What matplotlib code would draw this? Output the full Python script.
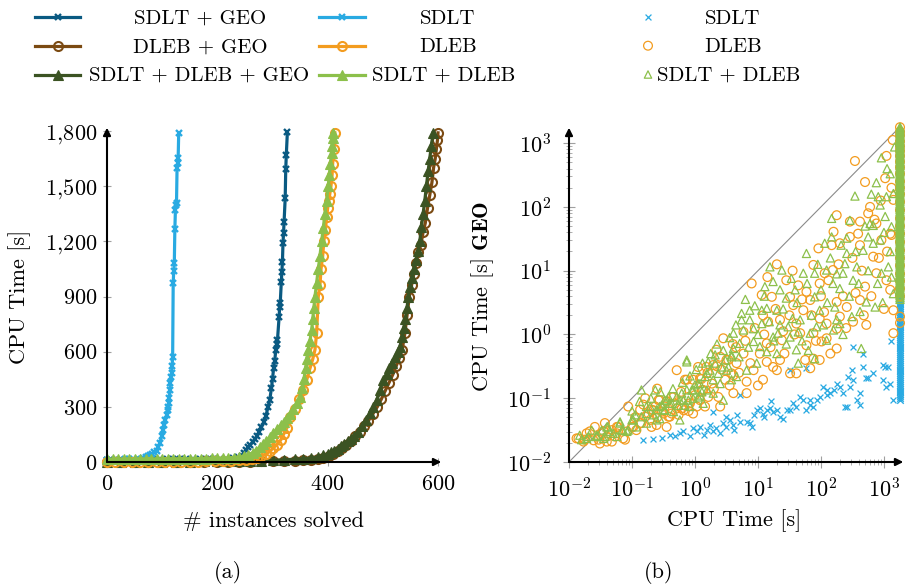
import numpy as np
import matplotlib
matplotlib.use("Agg")
import matplotlib.pyplot as plt
from matplotlib.ticker import FuncFormatter, LogLocator, NullFormatter, LogFormatterSciNotation

plt.rcParams['font.family'] = 'cmr10'
plt.rcParams['mathtext.fontset'] = 'cm'
plt.rcParams['axes.formatter.use_mathtext'] = True
plt.rcParams['font.size'] = 16

# colours
c_sdlt_geo = '#0a5a82'
c_sdlt = '#29aae2'
c_dleb_geo = '#7b4a12'
c_dleb = '#f39c1f'
c_all_geo = '#3b5323'
c_sdlt_dleb = '#8cc04b'

# ---- cactus plot data: (# instances solved, CPU time [s]) ----
sdlt_n = [0, 8, 16, 24, 32, 40, 48, 56, 62, 66, 70, 74, 78, 82, 86, 90, 93, 96, 99, 102, 104, 106,
          108, 110, 111, 112, 113, 114, 115, 116, 117, 118, 119, 120, 121, 122, 123, 124, 125, 126,
          127, 128, 129, 130]
sdlt_t = [12, 12, 13, 13, 14, 14, 15, 16, 18, 21, 26, 31, 37, 44, 52, 62, 80, 105, 140, 174, 200, 230,
          255, 285, 300, 320, 350, 390, 430, 460, 483, 520, 573, 975, 1040, 1080, 1265, 1370, 1395, 1410,
          1600, 1625, 1655, 1790]

sdlt_geo_n = [0, 12, 24, 36, 48, 60, 72, 84, 96, 108, 120, 132, 144, 156, 168, 180, 192, 204, 216, 228,
              238, 244, 248, 252, 256, 260, 264, 268, 272, 276, 280, 284, 288, 292, 295, 298,
              300, 302, 304, 306, 308, 309, 312, 313, 314, 316, 317, 318, 319, 320, 321, 323,
              324, 325, 327]
sdlt_geo_t = [12, 12, 12, 13, 13, 13, 13, 14, 14, 14, 15, 15, 15, 16, 16, 17, 17, 18, 19, 21,
              26, 35, 50, 65, 80, 95, 108, 125, 140, 165, 190, 215, 250, 300, 337, 400,
              450, 510, 550, 609, 640, 663, 790, 845, 863, 981, 1035, 1089, 1189, 1243, 1307, 1434,
              1591, 1669, 1796]

dleb_n = [0, 15, 30, 45, 60, 75, 90, 105, 120, 135, 150, 165, 180, 195, 210, 225, 240,
          252, 262, 272, 280, 288, 295, 301, 308, 315, 320, 326, 332, 340, 348, 355, 362,
          368, 373, 377, 380, 383, 386, 388, 391, 393, 396, 398, 400, 402, 404, 406, 408,
          409, 411, 413]
dleb_t = [0.3, 0.4, 0.5, 0.6, 0.7, 0.8, 1, 1.2, 1.4, 1.7, 2, 2.5, 3, 4, 5, 7, 9,
          12, 16, 22, 30, 42, 58, 75, 95, 120, 150, 185, 246, 290, 340, 390, 446,
          510, 560, 610, 700, 900, 960, 1050, 1120, 1200, 1260, 1330, 1380, 1420, 1460, 1500, 1560,
          1620, 1700, 1790]

sdlt_dleb_n = [0, 10, 20, 30, 40, 50, 60, 70, 80, 90, 100, 110, 120, 130, 140, 150, 160, 170, 180,
               190, 200, 210, 220, 230, 240, 248, 256, 264, 270, 277, 283, 289, 295,
               301, 308, 315, 320, 326, 332, 338, 344, 350, 354, 357, 360, 362, 365, 368, 371,
               373, 375, 377, 380, 383, 386, 389, 392, 395, 398, 401, 403, 405, 407, 408, 409, 410]
sdlt_dleb_t = [14, 14, 14, 15, 15, 15, 15, 16, 16, 16, 16, 17, 17, 17, 18, 18, 18, 19, 19,
               20, 20, 21, 22, 24, 27, 32, 40, 50, 62, 80, 98, 115, 135,
               155, 178, 200, 215, 240, 262, 290, 322, 355, 400, 450, 510, 560, 610, 660, 720,
               780, 840, 900, 975, 1050, 1120, 1200, 1270, 1350, 1420, 1500, 1560, 1620, 1680, 1720, 1760, 1790]

all_geo_n = [0, 25, 50, 75, 100, 125, 150, 175, 200, 220, 240, 260, 280, 300, 320, 340,
             355, 370, 382, 392, 400, 406, 412, 418, 424, 430, 436, 442, 448,
             455, 462, 470, 477, 483, 489, 495, 501, 507, 512, 517, 522, 527, 531,
             535, 538, 541, 544, 546, 549, 552, 556,
             560, 564, 567, 570, 573, 576, 579, 582, 585, 588, 591]
all_geo_t = [1, 1, 1.5, 1.5, 2, 2, 2.5, 3, 4, 5, 6, 7, 8, 10, 12, 15,
             18, 22, 28, 36, 44, 52, 62, 72, 85, 100, 112, 125, 140,
             165, 195, 228, 265, 300, 337, 390, 446, 480, 510, 540, 570, 600, 627,
             680, 730, 780, 840, 900, 950, 1000, 1050,
             1100, 1150, 1200, 1280, 1350, 1420, 1500, 1580, 1650, 1720, 1790]

dleb_geo_n = [0, 25, 50, 75, 100, 125, 150, 175, 200, 220, 240, 260, 280, 300, 320, 340,
              355, 370, 382, 392, 402, 410, 418, 426, 434, 442, 450, 458,
              466, 474, 482, 490, 497, 504, 511, 518, 524, 530, 535, 540, 544, 548, 552, 556,
              560, 564, 569, 573, 577, 581, 585, 589, 592, 595, 597, 599, 600]
dleb_geo_t = [0.3, 0.3, 0.4, 0.5, 0.6, 0.7, 0.8, 1, 1.3, 1.6, 2, 2.5, 3, 4, 5, 7,
              9, 12, 16, 22, 32, 45, 60, 76, 95, 115, 140, 165,
              195, 225, 262, 300, 340, 385, 430, 475, 520, 565, 610, 700, 800, 900, 960, 1020,
              1080, 1140, 1180, 1250, 1300, 1380, 1450, 1520, 1600, 1650, 1700, 1750, 1790]

# ---- scatter data, as (log10 time without GEO, log10 time with GEO) ----
timeout = 1800
pts_sdlt = [(-0.83, -1.66), (-0.67, -1.64), (-0.53, -1.63), (-0.40, -1.58), (-0.32, -1.60), (-0.24, -1.55),
            (-0.19, -1.52), (-0.08, -1.60), (-0.03, -1.47), (0.03, -1.52), (0.08, -1.45), (0.19, -1.50),
            (0.24, -1.42), (0.29, -1.52), (0.34, -1.47), (0.45, -1.39), (0.50, -1.45), (0.50, -1.29),
            (0.56, -1.34), (0.61, -1.42), (0.66, -1.26), (0.71, -1.37), (0.82, -1.37), (0.87, -1.39),
            (0.93, -1.26), (0.98, -1.19), (1.03, -1.16), (1.14, -1.19), (1.24, -1.21), (1.30, -1.19),
            (1.35, -1.29), (1.40, -1.32), (1.46, -1.19), (1.51, -1.19), (1.56, -1.08), (1.61, -1.13),
            (1.67, -0.98), (1.72, -1.03), (1.77, -1.19), (1.83, -1.11), (1.88, -1.13), (1.93, -1.03),
            (1.98, -0.98), (2.04, -0.82), (2.09, -0.87), (2.14, -0.92), (2.20, -0.87), (2.25, -0.77),
            (2.30, -0.82), (2.35, -0.92), (2.41, -1.13), (2.43, -0.66), (2.51, -0.71), (2.57, -1.03),
            (2.62, -0.92), (2.67, -0.51), (2.72, -0.69), (2.83, -0.61), (2.99, -0.71), (3.10, -0.77),
            (3.15, -1.03), (3.02, -0.51), (3.07, -0.51), (2.51, -0.19), (2.67, -0.30), (1.51, -0.56),
            (1.77, -0.53), (0.71, -0.95), (0.29, -1.21), (2.09, -0.95), (1.83, -1.03), (1.08, -1.24),
            (1.19, -1.16), (2.99, -0.48), (3.12, -0.11), (3.04, -0.82), (2.75, -0.68), (2.49, -0.56),
            (2.38, -1.13), (2.62, -1.11), (2.46, -0.82), (0.40, -1.55), (0.14, -1.58), (0.62, -1.50),
            (1.10, -1.30), (0.90, -1.45), (1.20, -1.05)]
col_sdlt = [0.56, 0.53, 0.5, 0.47, 0.44, 0.41, 0.38, 0.35, 0.32, 0.29, 0.26, 0.23, 0.2, 0.17, 0.14,
            0.11, 0.08, 0.05, 0.02, -0.01, -0.04, -0.07, -0.1, -0.13, -0.16, -0.19, -0.22, -0.25,
            -0.28, -0.31, -0.34, -0.37, -0.4, -0.43, -0.46, -0.49, -0.52, -0.55, -0.58, -0.61, -0.64,
            -0.67, -0.7, -0.73, -0.76, -0.79, -0.82, -0.85, -0.88, -0.91, -0.94, -0.97, -1.0, -1.03]

pts_dleb = [(-1.85, -1.63), (-1.75, -1.65), (-1.59, -1.45), (-1.53, -1.65), (-1.43, -1.39), (-1.40, -1.68),
            (-1.27, -1.60), (-1.22, -1.45), (-1.11, -1.65), (-1.08, -1.52), (-1.06, -1.13), (-1.00, -1.45),
            (-0.93, -1.50), (-0.87, -1.18), (-0.79, -1.00), (-0.74, -1.24), (-0.69, -1.45), (-0.63, -1.13),
            (-0.58, -1.03), (-0.53, -1.21), (-0.48, -1.13), (-0.42, -1.29), (-0.37, -1.24), (-0.32, -1.08),
            (-0.26, -1.26), (-0.16, -0.71), (-0.105, -0.98), (-0.03, -0.71), (0.05, -0.51), (0.11, -0.87),
            (0.16, -1.13), (0.21, -0.98), (0.27, -0.77), (0.34, -0.24), (0.37, -0.98), (0.45, -0.06),
            (0.48, -0.71), (0.53, -0.40), (0.58, -0.61), (0.61, -0.92), (-0.69, -1.18), (-0.85, -1.39),
            (-1.32, -1.50), (-1.67, -1.52), (-1.48, -1.55), (-0.21, -1.16), (0.03, -1.13), (-0.37, -0.98),
            (0.90, 0.80), (0.77, 0.04), (1.06, 0.62), (1.22, 0.59), (1.08, 0.30), (1.16, 0.20),
            (1.35, 0.23), (1.51, 0.59), (1.56, 0.46), (1.64, 0.77), (1.72, 0.38), (1.77, 0.67),
            (1.83, 0.54), (1.88, 1.09), (1.96, 1.35), (1.98, 0.80), (2.06, 0.96), (2.17, 1.40),
            (2.19, 1.01), (2.25, 0.51), (2.30, 0.28), (2.25, 0.09), (2.41, 0.43), (2.46, 1.53),
            (2.59, 1.58), (2.62, 0.54), (2.70, 0.75), (2.72, 0.15), (2.83, 1.22), (2.88, 0.96),
            (2.96, 1.48), (3.10, 1.58), (3.15, 0.02), (3.15, 0.38), (3.04, 0.85), (1.88, -0.38),
            (1.83, -0.53), (1.61, -0.61), (1.38, -0.09), (1.77, -0.17), (1.98, 0.25), (2.09, -0.06),
            (2.25, -0.22), (1.30, -0.56), (1.14, -0.43), (0.66, -0.45), (0.18, -0.51), (1.45, 0.85),
            (2.30, 1.43), (2.62, 1.40), (1.67, 0.02),
            (2.54, 2.72), (2.70, 2.39), (3.04, 2.80), (3.14, 3.05), (2.78, 2.00), (2.25, 1.87),
            (2.46, 1.77), (2.20, 1.61), (3.02, 2.45), (3.15, 2.11), (2.88, 1.74), (2.62, 1.77),
            (3.12, 1.56),
            (0.08, -0.69), (0.29, -0.48), (0.50, -0.40), (0.61, -0.64), (0.77, -0.30), (0.82, -0.74),
            (0.93, -0.56), (1.03, -0.30), (1.08, -0.71), (1.14, -0.14), (1.24, -0.51), (1.35, -0.40),
            (1.51, -0.61), (1.61, 0.17), (1.88, 0.02), (1.98, -0.40), (2.09, 0.17), (2.51, 0.20),
            (0.40, -0.35), (-0.13, -0.71), (-0.29, -0.56), (0.08, -1.03), (0.40, -1.13), (0.13, -0.87),
            (-0.34, -0.98), (-0.56, -1.03), (2.01, -0.11), (0.82, -0.92),
            (-1.88, -1.63), (-1.77, -1.68), (-1.61, -1.66), (-1.51, -1.71), (-1.40, -1.60), (-1.32, -1.68),
            (-1.24, -1.55), (-1.14, -1.63), (-0.98, -1.45), (-0.87, -1.39), (-0.79, -1.29), (-0.71, -1.34),
            (-0.66, -1.19), (-0.50, -1.24), (-0.40, -1.29), (-0.29, -1.16), (-0.18, -1.19), (-0.08, -1.08),
            (-0.03, -1.24), (-0.61, -1.42), (-1.24, -1.45), (-1.45, -1.52), (-1.72, -1.55), (-0.45, -1.45),
            (-0.95, -1.30), (-0.82, -1.10), (-0.60, -1.30), (-0.45, -1.05), (-0.22, -0.90), (-0.10, -1.20),
            (0.00, -0.95), (0.10, -0.70), (0.20, -0.60), (0.30, -0.85), (0.42, -0.55), (0.55, -0.80),
            (0.65, -0.20), (0.70, -0.60), (0.80, -0.10), (0.88, -0.45), (0.95, 0.10), (1.00, -0.80),
            (1.10, 0.00), (1.20, -0.20), (1.28, 0.40), (1.40, 0.05), (1.42, -0.30), (1.50, 0.30),
            (1.58, 0.00), (1.70, 0.55), (1.75, -0.40), (1.85, 0.30), (1.92, -0.10), (2.00, 0.60),
            (2.05, 0.35), (2.12, 0.85), (2.15, -0.30), (2.28, 1.10), (2.35, 0.60), (2.40, 0.10),
            (2.50, 1.20), (2.55, 0.65), (2.65, 1.00), (2.68, 0.30), (2.80, 0.60), (2.85, 1.80),
            (2.92, 1.20), (3.00, 0.40), (3.05, 1.30), (3.10, 0.70), (3.12, 2.30), (2.95, 2.10),
            (2.75, 1.90), (1.30, 1.10), (1.55, 1.00), (1.15, 0.90), (0.60, -0.15), (0.35, -0.50),
            (-0.60, -0.85)]
col_dleb = [3.25, 3.18, 3.12, 3.03, 2.95, 2.88, 2.8, 2.71, 2.62, 2.52, 2.4, 2.3, 2.2, 2.08, 1.95,
            1.82, 1.7, 1.58, 1.45, 1.32, 1.2, 1.08, 0.95, 0.84, 0.72, 0.6, 0.28, 0.18]

pts_sdlt_dleb = [(-1.80, -1.65), (-1.64, -1.50), (-1.56, -1.58), (-1.48, -1.50), (-1.38, -1.45), (-1.30, -1.55),
                 (-1.19, -1.37), (-1.14, -1.50), (-1.00, -1.34), (-0.95, -1.26), (-0.85, -0.87), (-0.77, -1.24),
                 (-0.71, -1.13), (-0.63, -0.87), (-0.61, -1.18), (-0.53, -1.11), (-0.48, -1.03), (-0.42, -0.98),
                 (-0.37, -1.08), (-0.29, -0.98), (-0.24, -1.34), (-0.21, -0.92), (-0.16, -1.11), (-0.13, -0.43),
                 (-0.105, -1.03), (-0.05, -0.87), (0.00, -0.79), (0.05, -0.77), (0.11, -0.90), (0.16, -0.66),
                 (0.21, -0.43), (0.24, -0.56), (0.29, -0.71), (0.32, -0.45), (0.37, -0.61), (0.42, -0.51),
                 (0.48, -0.40), (0.53, -0.51), (0.58, -0.71), (0.61, -0.22), (0.58, -0.32), (-1.43, -1.60),
                 (-1.69, -1.60), (-1.06, -1.50), (-0.48, -1.18), (-0.85, -1.29), (-0.61, -1.34), (0.05, -0.98),
                 (1.19, 1.06), (1.38, 1.01), (1.53, 0.88), (1.24, 0.83), (1.11, 0.75), (0.87, 0.38),
                 (0.74, 0.23), (1.14, 0.41), (1.30, 0.38), (1.45, 0.57), (1.59, 0.70), (1.72, 0.96),
                 (1.77, 1.27), (1.90, 0.96), (2.06, 1.43), (2.17, 1.53), (2.09, 1.01), (2.19, 0.80),
                 (2.30, 0.72), (2.35, 0.96), (2.41, 1.27), (2.51, 0.85), (2.57, 1.06), (2.67, 1.32),
                 (2.75, 1.53), (2.83, 1.43), (2.94, 1.48), (2.96, 0.96), (3.07, 1.06), (3.15, 0.64),
                 (2.72, 0.51), (2.62, 0.36), (2.49, 0.28), (2.25, 0.23), (2.04, 0.15), (1.98, 0.38),
                 (1.90, 0.59), (1.67, 0.23), (1.64, 0.04), (1.51, -0.04), (1.32, 0.02), (0.93, 0.09),
                 (0.71, -0.14), (0.58, -0.35), (0.32, -0.32), (1.64, -0.45), (1.90, -0.38), (2.64, -0.22),
                 (2.22, 0.43), (2.38, 1.11),
                 (2.96, 2.77), (2.88, 2.38), (3.10, 2.52), (2.54, 2.17), (2.91, 2.16), (2.94, 2.03),
                 (3.04, 2.16), (3.15, 2.21), (2.17, 1.82), (2.46, 1.79), (2.78, 1.74), (2.83, 1.71),
                 (3.02, 1.85), (3.12, 1.69), (3.17, 2.94), (2.41, 1.51),
                 (-0.13, -0.40), (0.61, 0.02), (0.77, 0.07), (0.87, 0.23), (1.06, 0.17), (0.93, -0.11),
                 (1.03, -0.19), (1.14, -0.27), (1.24, -0.04), (1.35, 0.15), (1.48, 0.12), (1.61, -0.24),
                 (1.83, 0.02), (1.93, 0.12), (2.09, -0.09), (2.20, 0.07), (2.30, 0.17), (2.86, 0.43),
                 (0.66, -0.66), (0.82, -0.56), (0.98, -0.45), (0.50, -0.56), (0.40, -0.77), (0.08, -0.77),
                 (-0.03, -0.87), (-0.24, -1.03), (-0.40, -1.08), (-0.56, -1.13), (0.19, -0.61), (1.30, -0.30),
                 (0.74, 0.33), (1.06, 0.38),
                 (-1.83, -1.58), (-1.72, -1.63), (-1.56, -1.60), (-1.45, -1.63), (-1.35, -1.52), (-1.24, -1.60),
                 (-1.16, -1.50), (-1.08, -1.52), (-0.98, -1.34), (-0.93, -1.45), (-0.77, -1.39), (-0.66, -1.26),
                 (-0.56, -1.32), (-0.48, -1.19), (-0.34, -1.21), (-0.26, -1.11), (-0.18, -1.03), (-0.08, -1.13),
                 (-0.03, -1.00), (0.08, -0.95), (0.19, -0.87), (-1.19, -1.39), (-1.40, -1.45), (-0.45, -1.03),
                 (-0.77, -1.13), (-0.13, -0.87), (0.13, -1.08), (0.29, -0.92), (0.45, -1.03),
                 (-1.00, -1.20), (-0.88, -1.05), (-0.70, -1.00), (-0.55, -0.90), (-0.35, -0.85), (-0.20, -0.75),
                 (-0.08, -0.65), (0.02, -0.55), (0.12, -0.45), (0.25, -0.30), (0.35, -0.15), (0.45, -0.25),
                 (0.55, -0.05), (0.65, 0.15), (0.70, -0.35), (0.80, 0.55), (0.85, -0.20), (0.95, 0.45),
                 (1.00, 0.00), (1.10, 0.60), (1.18, 0.20), (1.25, -0.10), (1.35, 0.70), (1.40, 0.40),
                 (1.45, -0.15), (1.55, 0.25), (1.62, 0.50), (1.70, -0.10), (1.78, 0.80), (1.85, 0.30),
                 (1.95, 1.10), (2.00, 0.70), (2.10, 0.50), (2.15, 1.20), (2.25, 0.95), (2.32, 1.40),
                 (2.45, 0.60), (2.55, 1.30), (2.60, 0.80), (2.70, 1.70), (2.75, 1.00), (2.80, 2.20),
                 (2.90, 0.80), (3.00, 1.60), (3.05, 2.60), (3.10, 1.30), (3.12, 0.90), (2.98, 0.50),
                 (2.35, 0.00), (1.80, -0.25)]
col_sdlt_dleb = [3.25, 3.22, 3.19, 3.16, 3.13, 3.1, 3.07, 3.04, 3.01, 2.98, 2.95, 2.92, 2.89, 2.86,
                 2.83, 2.8, 2.77, 2.74, 2.71, 2.68, 2.65, 2.62, 2.59, 2.56, 2.53, 2.5, 2.47, 2.44,
                 2.41, 2.38, 2.35, 2.32, 2.29, 2.26, 2.23, 2.2, 2.17, 2.14, 2.11, 2.08, 2.05, 2.02,
                 1.99, 1.96, 1.93, 1.9, 1.87, 1.84, 1.81, 1.78, 1.75, 1.72, 1.69, 1.66, 1.63, 1.6,
                 1.57, 1.54, 1.51, 1.48, 1.45, 1.42, 1.39, 1.36, 1.33, 1.3, 1.27, 1.24, 1.21, 1.18,
                 1.15, 1.12, 1.09, 1.06, 1.03, 1.0, 0.97, 0.94, 0.91, 0.88, 0.85, 0.82, 0.79, 0.76,
                 0.73, 0.7, 0.67, 0.64, 0.61, 0.58, 0.55]

W, H = 909, 585
fig = plt.figure(figsize=(W / 100, H / 100), dpi=100)

# legend area drawn in pixel coordinates
axl = fig.add_axes([0, 0, 1, 1])
axl.set_xlim(0, W)
axl.set_ylim(H, 0)
axl.axis('off')

ax1 = fig.add_axes([107 / W, 1 - 462 / H, 331 / W, 331 / H])
ax2 = fig.add_axes([569 / W, 1 - 462 / H, 331 / W, 331 / H])

tick_col = '#a0a0a0'

# ---------------- (a) cactus plot ----------------
cactus = [
    (sdlt_geo_n, sdlt_geo_t, c_sdlt_geo, 'x', 'SDLT + GEO'),
    (dleb_geo_n, dleb_geo_t, c_dleb_geo, 'o', 'DLEB + GEO'),
    (all_geo_n, all_geo_t, c_all_geo, '^', 'SDLT + DLEB + GEO'),
    (sdlt_n, sdlt_t, c_sdlt, 'x', 'SDLT'),
    (dleb_n, dleb_t, c_dleb, 'o', 'DLEB'),
    (sdlt_dleb_n, sdlt_dleb_t, c_sdlt_dleb, '^', 'SDLT + DLEB'),
]


def mstyle(marker, color):
    if marker == 'x':
        return dict(marker='x', ms=4.5, mew=1.7, mec=color)
    if marker == 'o':
        return dict(marker='o', ms=6.5, mew=1.5, mec=color, mfc='none')
    return dict(marker='^', ms=6.5, mew=0.8, mec=color, mfc=color)


def thousands(v, pos):
    v = int(round(v))
    if v >= 1000:
        return rf"${v // 1000},\!{v % 1000:03d}$"
    return f"${v}$"


for n, t, col, mk, lab in cactus:
    ax1.plot(n, t, color=col, lw=2.3, clip_on=False, **mstyle(mk, col))

ax1.set_xlim(0, 600)
ax1.set_ylim(0, 1800)
ax1.set_xticks([0, 200, 400, 600])
ax1.set_yticks([0, 300, 600, 900, 1200, 1500, 1800])
ax1.yaxis.set_major_formatter(FuncFormatter(thousands))
ax1.tick_params(axis='both', direction='inout', length=6, width=0.8, color=tick_col)
ax1.tick_params(axis='x', pad=6)
ax1.tick_params(axis='y', pad=4)
ax1.set_xlabel('# instances solved')
ax1.set_ylabel('CPU Time [s]')
ax1.xaxis.label.set_va('center')
ax1.yaxis.label.set_va('center')
ax1.xaxis.set_label_coords(0.503, -0.178)
ax1.yaxis.set_label_coords(-0.265, 0.5)

# ---------------- (b) scatter plot ----------------
sx, sy = zip(*pts_sdlt)
dx, dy = zip(*pts_dleb)
gx, gy = zip(*pts_sdlt_dleb)

ax2.plot([0.01, 1500], [0.01, 1500], color='#8a8a8a', lw=0.8, zorder=1)
ax2.scatter(10 ** np.array(sx), 10 ** np.array(sy), marker='x', s=18, c=c_sdlt, lw=0.9, clip_on=False, zorder=2)
ax2.scatter(np.full(len(col_sdlt), timeout), 10 ** np.array(col_sdlt), marker='x', s=22, c=c_sdlt,
            lw=1.0, clip_on=False, zorder=2)
ax2.scatter(10 ** np.array(dx), 10 ** np.array(dy), marker='o', s=40, facecolors='none',
            edgecolors=c_dleb, lw=0.9, clip_on=False, zorder=3)
ax2.scatter(np.full(len(col_dleb), timeout), 10 ** np.array(col_dleb), marker='o', s=40,
            facecolors='none', edgecolors=c_dleb, lw=0.9, clip_on=False, zorder=3)
ax2.scatter(10 ** np.array(gx), 10 ** np.array(gy), marker='^', s=34, facecolors='none',
            edgecolors=c_sdlt_dleb, lw=0.9, clip_on=False, zorder=4)
ax2.scatter(np.full(len(col_sdlt_dleb), timeout), 10 ** np.array(col_sdlt_dleb), marker='^', s=34,
            facecolors='none', edgecolors=c_sdlt_dleb, lw=1.0, clip_on=False, zorder=4)

ax2.set_xscale('log')
ax2.set_yscale('log')
ax2.set_xlim(0.01, 1800)
ax2.set_ylim(0.01, 1550)
for axis in (ax2.xaxis, ax2.yaxis):
    axis.set_major_locator(LogLocator(base=10, numticks=12))
    axis.set_minor_locator(LogLocator(base=10, subs=np.arange(2, 10), numticks=12))
    axis.set_major_formatter(LogFormatterSciNotation())
    axis.set_minor_formatter(NullFormatter())
ax2.tick_params(axis='both', which='major', direction='inout', length=8, width=0.8, color=tick_col)
ax2.tick_params(axis='both', which='minor', direction='inout', length=5, width=0.6, color=tick_col)
ax2.tick_params(axis='x', which='major', pad=7)
ax2.tick_params(axis='y', which='major', pad=9)
ax2.set_xlabel('CPU Time [s]')
ax2.set_ylabel(r'CPU Time [s] $\mathbf{GEO}$')
ax2.xaxis.label.set_va('center')
ax2.yaxis.label.set_va('center')
ax2.xaxis.set_label_coords(0.498, -0.178)
ax2.yaxis.set_label_coords(-0.26, 0.5)

# axis lines with arrow heads
for ax in (ax1, ax2):
    for s in ax.spines.values():
        s.set_visible(False)
    for tip in [(1.01, 0.0), (0.0, 1.01)]:
        ax.annotate('', xy=tip, xytext=(0, 0), xycoords='axes fraction', textcoords='axes fraction',
                    arrowprops=dict(arrowstyle='-|>', lw=1.5, color='black', mutation_scale=11,
                                    shrinkA=0, shrinkB=0), annotation_clip=False, zorder=6)

fig.text(228 / W, 1 - 572 / H, '(a)', ha='center', va='center')
fig.text(659 / W, 1 - 572 / H, '(b)', ha='center', va='center')

# ---------------- legends ----------------
row_line = [17.3, 45.7, 74.5]
row_base = [24, 52.5, 81]
col1 = [(c_sdlt_geo, 'x', 'SDLT + GEO', 200), (c_dleb_geo, 'o', 'DLEB + GEO', 200),
        (c_all_geo, '^', 'SDLT + DLEB + GEO', 199)]
col2 = [(c_sdlt, 'x', 'SDLT', 448), (c_dleb, 'o', 'DLEB', 448), (c_sdlt_dleb, '^', 'SDLT + DLEB', 444)]
for items, x0, x1 in [(col1, 35, 80), (col2, 319, 365)]:
    for i, (col, mk, lab, cx) in enumerate(items):
        y = row_line[i]
        axl.plot([x0, (x0 + x1) / 2, x1], [y, y, y], color=col, lw=2.3, markevery=[1], **mstyle(mk, col))
        axl.text(cx, row_base[i], lab, ha='center', va='baseline', fontsize=15)

col3 = [('x', c_sdlt, 'SDLT', 733), ('o', c_dleb, 'DLEB', 733), ('^', c_sdlt_dleb, 'SDLT + DLEB', 729)]
for i, (mk, col, lab, cx) in enumerate(col3):
    y = row_line[i]
    if mk == 'x':
        axl.scatter([648], [y], marker='x', s=18, c=col, lw=0.9)
    else:
        axl.scatter([648], [y], marker=mk, s=40 if mk == 'o' else 28, facecolors='none', edgecolors=col, lw=0.9)
    axl.text(cx, row_base[i], lab, ha='center', va='baseline', fontsize=15)

fig.savefig('out.png', dpi=100)
